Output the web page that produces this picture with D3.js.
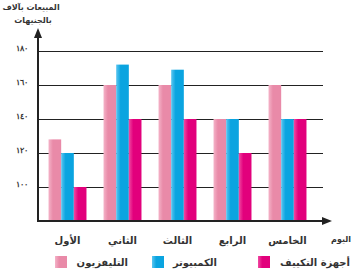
<!DOCTYPE html>
<html>
<head>
<meta charset="utf-8">
<script src="https://cdn.jsdelivr.net/npm/d3@7"></script>
<style>
  html, body { margin: 0; padding: 0; background: #fff; }
  svg { display: block; font-family: "DejaVu Sans", sans-serif; }
</style>
</head>
<body>
<svg width="353" height="272"></svg>
<script>
// data
const days = ["الأول", "الثاني", "الثالث", "الرابع", "الخامس"];
const seriesNames = ["التليفزيون", "الكمبيوتر", "أجهزة التكييف"];
const tvSales = [128, 160, 160, 140, 160];
const pcSales = [120, 172, 169, 140, 140];
const acSales = [100, 140, 140, 120, 140];
const yTicks = [100, 120, 140, 160, 180];
const yTickLabels = ["١٠٠", "١٢٠", "١٤٠", "١٦٠", "١٨٠"];

const colors = ["#e98aa8", "#0aa4e0", "#e2007c"];
const lightColors = ["#f4b3c8", "#5cc6f0", "#f04ba2"];

const svg = d3.select("svg");
const values = [tvSales, pcSales, acSales];

const axisX = 38, axisY = 221;
const y = d3.scaleLinear().domain([80, 180]).range([axisY, 51]);
const x0 = d3.scaleBand().domain(days).range([40, 315])
  .paddingInner(0.31).paddingOuter(0.155);
const x1 = d3.scaleBand().domain(d3.range(3)).range([0, x0.bandwidth()]);

// gradients for the slight 3D look
const defs = svg.append("defs");
colors.forEach((c, i) => {
  const g = defs.append("linearGradient").attr("id", "g" + i)
    .attr("x1", 0).attr("x2", 1).attr("y1", 0).attr("y2", 0);
  g.append("stop").attr("offset", "0%").attr("stop-color", lightColors[i]);
  g.append("stop").attr("offset", "35%").attr("stop-color", c);
  g.append("stop").attr("offset", "100%").attr("stop-color", c);
});

// gridlines + tick labels
const yAxis = d3.axisLeft(y)
  .tickValues(yTicks)
  .tickSize(-(323 - axisX))
  .tickPadding(10)
  .tickFormat((d, i) => yTickLabels[i]);

const ga = svg.append("g").attr("transform", `translate(${axisX},0)`).call(yAxis);
ga.select(".domain").remove();
ga.selectAll(".tick line").attr("stroke", "#222").attr("stroke-width", 1);
ga.selectAll(".tick text")
  .attr("font-size", 8).attr("font-weight", "bold").attr("fill", "#333")
  .attr("dy", "-0.1em");

// bars
const group = svg.append("g").selectAll("g")
  .data(days).join("g")
  .attr("transform", d => `translate(${x0(d)},0)`);

group.selectAll("rect")
  .data((d, di) => values.map((s, si) => ({ si, v: s[di] })))
  .join("rect")
  .attr("x", d => x1(d.si))
  .attr("width", x1.bandwidth())
  .attr("y", d => y(d.v))
  .attr("height", d => axisY - y(d.v))
  .attr("fill", d => `url(#g${d.si})`);

// axes with arrows
svg.append("line").attr("x1", axisX).attr("x2", axisX)
  .attr("y1", axisY + 1).attr("y2", 36)
  .attr("stroke", "#222").attr("stroke-width", 2);
svg.append("path").attr("d", `M${axisX},28 L${axisX - 4},38 L${axisX + 4},38 Z`).attr("fill", "#222");

svg.append("line").attr("x1", axisX - 1).attr("x2", 324)
  .attr("y1", axisY).attr("y2", axisY)
  .attr("stroke", "#222").attr("stroke-width", 2);
svg.append("path").attr("d", `M332,${axisY} L322,${axisY - 4} L322,${axisY + 4} Z`).attr("fill", "#222");

// x labels
svg.append("g").selectAll("text")
  .data(days).join("text")
  .attr("x", d => x0(d) + x0.bandwidth() / 2)
  .attr("y", 244)
  .attr("text-anchor", "middle")
  .attr("font-size", 10).attr("font-weight", "bold").attr("fill", "#333")
  .text(d => d);

svg.append("text").attr("x", 351).attr("y", 242).attr("text-anchor", "end")
  .attr("font-size", 8).attr("font-weight", "bold").attr("fill", "#333")
  .text("اليوم");

// y title
svg.append("text").attr("x", 31).attr("y", 10).attr("text-anchor", "middle")
  .attr("font-size", 8).attr("font-weight", "bold").attr("fill", "#333")
  .text("المبيعات بآلاف");
svg.append("text").attr("x", 33).attr("y", 23).attr("text-anchor", "middle")
  .attr("font-size", 8).attr("font-weight", "bold").attr("fill", "#333")
  .text("بالجنيهات");

// legend
const legendPos = [
  { sx: 55, tx: 128 },
  { sx: 152, tx: 217 },
  { sx: 258, tx: 350 }
];
const lg = svg.append("g").selectAll("g")
  .data(seriesNames).join("g");
lg.append("rect")
  .attr("x", (d, i) => legendPos[i].sx).attr("y", 256)
  .attr("width", 12).attr("height", 12)
  .attr("fill", (d, i) => `url(#g${i})`);
lg.append("text")
  .attr("x", (d, i) => legendPos[i].tx).attr("y", 266)
  .attr("text-anchor", "end")
  .attr("font-size", 10).attr("font-weight", "bold").attr("fill", "#333")
  .text(d => d);
</script>
</body>
</html>
